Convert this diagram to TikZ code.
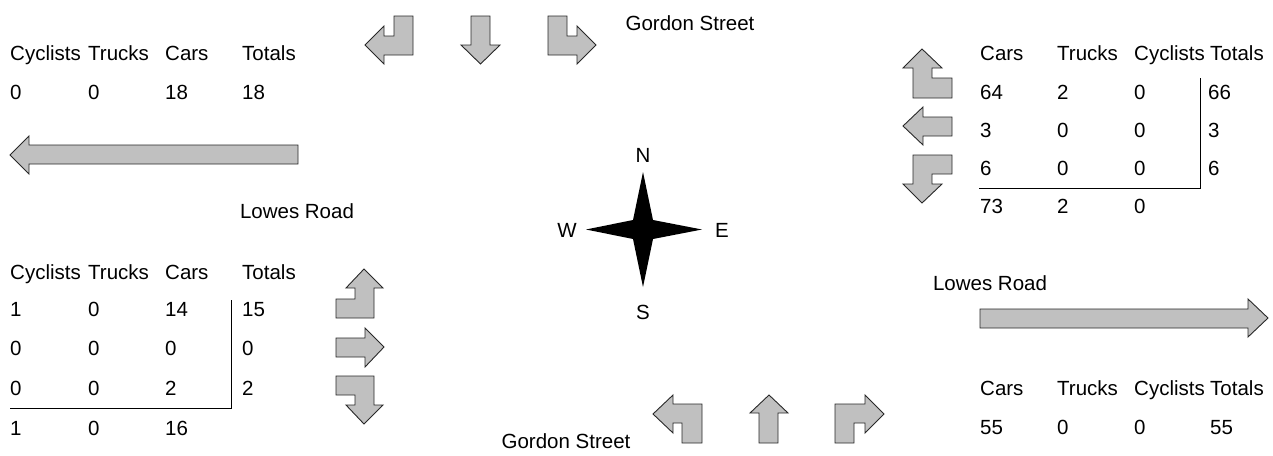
\documentclass[tikz,border=0pt]{standalone}
\usepackage{fontspec}
\setmainfont{Liberation Sans}
\definecolor{arrowgray}{RGB}{192,192,192}
\definecolor{edgegray}{RGB}{40,40,40}
\tikzset{
  blk/.style={fill=arrowgray, draw=edgegray, line width=0.9pt, line join=miter},
  txt/.style={anchor=base west, inner sep=0pt, font=\fontsize{20.5}{24}\selectfont},
  lbl/.style={anchor=base, inner sep=0pt, font=\fontsize{20.5}{24}\selectfont},
  tabrule/.style={draw=black, line width=0.9pt},
}
\newcommand\cell[4]{\node[txt] (#1) at (#2,#3) {#4};}
\begin{document}
\begin{tikzpicture}[x=1pt,y=-1pt]
\useasboundingbox (0,0) rectangle (1273,455);

% ---------- north approach (Gordon Street, southbound) ----------
\draw[blk] (413,16) -- (413,55) -- (384,55) -- (384,64) -- (365,45) -- (384,26) -- (384,36) -- (394,36) -- (394,16) -- cycle;
\draw[blk] (471,16) -- (490,16) -- (490,45) -- (500,45) -- (480.5,64) -- (461,45) -- (471,45) -- cycle;
\draw[blk] (548,16) -- (567,16) -- (567,36) -- (577,36) -- (577,26) -- (596,45) -- (577,64) -- (577,55) -- (548,55) -- cycle;
\node[lbl] (gsN) at (690,30) {Gordon Street};

% ---------- south approach (Gordon Street, northbound) ----------
\draw[blk] (702,443) -- (682,443) -- (682,423) -- (673,423) -- (673,433) -- (653,414) -- (673,395) -- (673,404) -- (702,404) -- cycle;
\draw[blk] (759,443) -- (778,443) -- (778,413) -- (788,413) -- (769,395) -- (750,413) -- (759,413) -- cycle;
\draw[blk] (835,443) -- (854,443) -- (854,423) -- (865,423) -- (865,433) -- (884,414) -- (865,395) -- (865,404) -- (835,404) -- cycle;
\node[lbl] (gsS) at (566,448) {Gordon Street};

% ---------- east approach (westbound) ----------
\draw[blk] (922,49) -- (942,68) -- (932,68) -- (932,78) -- (952,78) -- (952,98) -- (913,98) -- (913,68) -- (903,68) -- cycle;
\draw[blk] (952,117) -- (952,136) -- (923,136) -- (923,145) -- (903,126) -- (923,107) -- (923,117) -- cycle;
\draw[blk] (913,155) -- (952,155) -- (952,174) -- (932,174) -- (932,184) -- (942,184) -- (922,203) -- (903,184) -- (913,184) -- cycle;

% ---------- west approach (eastbound) ----------
\draw[blk] (364,269) -- (383,288) -- (374,288) -- (374,318) -- (336,318) -- (336,299) -- (355,299) -- (355,288) -- (346,288) -- cycle;
\draw[blk] (336,338) -- (365,338) -- (365,328) -- (384,347) -- (365,367) -- (365,357) -- (336,357) -- cycle;
\draw[blk] (336,376) -- (374,376) -- (374,405) -- (383,405) -- (364,424) -- (346,405) -- (355,405) -- (355,395) -- (336,395) -- cycle;

% ---------- Lowes Road through arrows ----------
\draw[blk] (298,145) -- (298,164) -- (29,164) -- (29,174) -- (10,155) -- (29,136) -- (29,145) -- cycle;
\draw[blk] (980,309) -- (1248,309) -- (1248,299) -- (1268,318) -- (1248,337) -- (1248,328) -- (980,328) -- cycle;
\node[lbl] (lrW) at (297,218) {Lowes Road};
\node[lbl] (lrE) at (990,290) {Lowes Road};

% ---------- compass ----------
\fill[black] (643,172) -- (653,220) -- (702,229.5) -- (653,239) -- (643,287) -- (633,239) -- (586,229.5) -- (633,220) -- cycle;
\node[lbl] (cN) at (643,162) {N};
\node[lbl] (cS) at (643,319) {S};
\node[lbl] (cW) at (567,237) {W};
\node[lbl] (cE) at (722,237) {E};

% ---------- table: north-west ----------
\cell{a1}{10}{60}{Cyclists}
\cell{a2}{88}{60}{Trucks}
\cell{a3}{165}{60}{Cars}
\cell{a4}{242}{60}{Totals}
\cell{a5}{10}{99}{0}
\cell{a6}{88}{99}{0}
\cell{a7}{165}{99}{18}
\cell{a8}{242}{99}{18}

% ---------- table: north-east ----------
\cell{b1}{980}{60}{Cars}
\cell{b2}{1057}{60}{Trucks}
\cell{b3}{1134}{60}{Cyclists}
\cell{b4}{1210}{60}{Totals}
\cell{b5}{980}{99}{64}
\cell{b6}{1057}{99}{2}
\cell{b7}{1134}{99}{0}
\cell{b8}{1208}{99}{66}
\cell{b9}{980}{137}{3}
\cell{b10}{1057}{137}{0}
\cell{b11}{1134}{137}{0}
\cell{b12}{1208}{137}{3}
\cell{b13}{980}{175}{6}
\cell{b14}{1057}{175}{0}
\cell{b15}{1134}{175}{0}
\cell{b16}{1208}{175}{6}
\cell{b17}{980}{213}{73}
\cell{b18}{1057}{213}{2}
\cell{b19}{1134}{213}{0}
\coordinate (bTop) at (1200,78);
\coordinate (bCorner) at (1200,188);
\coordinate (bLeft) at (979,188);
\draw[tabrule] (bTop) -- (bCorner) -- (bLeft);

% ---------- table: south-west ----------
\cell{c1}{10}{279}{Cyclists}
\cell{c2}{88}{279}{Trucks}
\cell{c3}{165}{279}{Cars}
\cell{c4}{242}{279}{Totals}
\cell{c5}{10}{316}{1}
\cell{c6}{88}{316}{0}
\cell{c7}{165}{316}{14}
\cell{c8}{242}{316}{15}
\cell{c9}{10}{355}{0}
\cell{c10}{88}{355}{0}
\cell{c11}{165}{355}{0}
\cell{c12}{242}{355}{0}
\cell{c13}{10}{395}{0}
\cell{c14}{88}{395}{0}
\cell{c15}{165}{395}{2}
\cell{c16}{242}{395}{2}
\cell{c17}{10}{435}{1}
\cell{c18}{88}{435}{0}
\cell{c19}{165}{435}{16}
\coordinate (cTop) at (231,300);
\coordinate (cCorner) at (231,408);
\coordinate (cLeft) at (10,408);
\draw[tabrule] (cTop) -- (cCorner) -- (cLeft);

% ---------- table: south-east ----------
\cell{d1}{980}{395}{Cars}
\cell{d2}{1057}{395}{Trucks}
\cell{d3}{1134}{395}{Cyclists}
\cell{d4}{1210}{395}{Totals}
\cell{d5}{980}{434}{55}
\cell{d6}{1057}{434}{0}
\cell{d7}{1134}{434}{0}
\cell{d8}{1210}{434}{55}
\end{tikzpicture}
\end{document}
